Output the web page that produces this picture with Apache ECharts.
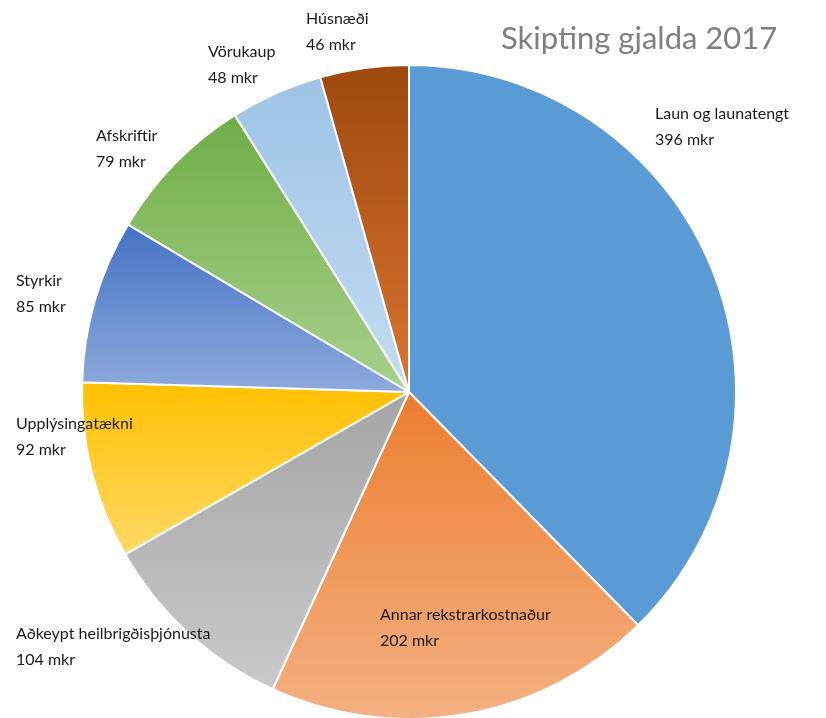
<!DOCTYPE html>
<html>
<head>
<meta charset="utf-8">
<script src="https://cdn.jsdelivr.net/npm/echarts@6/dist/echarts.min.js"></script>
<style>
html,body{margin:0;padding:0;background:#fff;}
#chart{width:826px;height:718px;}
</style>
</head>
<body>
<div id="chart"></div>
<script>
const categories = ['Laun og launatengt','Annar rekstrarkostnaður','Aðkeypt heilbrigðisþjónusta','Upplýsingatækni','Styrkir','Afskriftir','Vörukaup','Húsnæði'];
const values = [396, 202, 104, 92, 85, 79, 48, 46];
const colorTop = ['#5B9BD5','#ED7D31','#A5A5A5','#FFC000','#4472C4','#70AD47','#9DC3E6','#9E480E'];
const colorBottom = ['#5B9BD5','#F4B183','#C9C9C9','#FFD966','#8FAADC','#A9D18E','#C5DCF1','#DA7530'];
const labelAnchors = [[655,101],[380,602],[16,621],[16,411],[16,268],[96,123],[208,39],[306,6]];

const chart = echarts.init(document.getElementById('chart'));
chart.setOption({
  backgroundColor:'#fff',
  animation:false,
  title:{
    text:'Skipting gjalda 2017',
    left:496, top:18,
    textStyle:{fontFamily:'Lato',fontSize:31,fontWeight:'normal',color:'#7F7F7F'}
  },
  series:[{
    type:'pie',
    center:[409,392],
    radius:[0,327],
    startAngle:90,
    clockwise:true,
    data: categories.map((c,i)=>({
      name:c, value:values[i],
      itemStyle:{color:new echarts.graphic.LinearGradient(0,0,0,1,[
        {offset:0,color:colorTop[i]},{offset:1,color:colorBottom[i]}])}
    })),
    itemStyle:{borderColor:'#fff',borderWidth:2},
    label:{
      show:true,
      position:'inside',
      formatter:'{b}\n{c} mkr',
      fontFamily:'Lato',
      fontSize:16,
      lineHeight:26,
      color:'#1a1a1a',
      align:'left'
    },
    labelLine:{show:false},
    labelLayout:function(p){
      const a = labelAnchors[p.dataIndex];
      return {x:a[0], y:a[1], align:'left', verticalAlign:'top'};
    },
    emphasis:{disabled:true}
  }]
});
</script>
</body>
</html>
